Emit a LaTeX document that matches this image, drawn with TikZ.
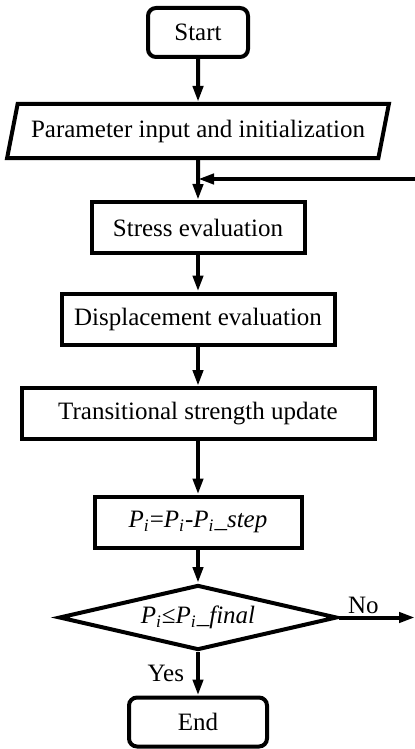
\documentclass[tikz,border=0pt]{standalone}
\usepackage{fontspec}
\setmainfont{Liberation Serif}
\usetikzlibrary{shapes.geometric,arrows.meta}
\newcommand{\Pvar}{\textit{P}\textsubscript{\textit{i}}}

\begin{document}
\begin{tikzpicture}[x=.5pt,y=-.5pt,line width=2pt,
		every node/.style={draw,inner sep=2pt,font=\fontsize{12.5}{15}\selectfont},
		termbox/.style={rectangle,rounded corners=4pt,minimum width=#1,minimum height=24.5pt},
		procbox/.style={rectangle,minimum width=#1,minimum height=25.5pt},
		iobox/.style={trapezium,trapezium left angle=72,trapezium right angle=108,
			trapezium stretches=true,minimum width=191pt,minimum height=27pt},
		testbox/.style={diamond,shape aspect=4.28,inner sep=0pt,minimum width=139pt,minimum height=32.5pt},
		flow/.style={-{Triangle[length=8pt,width=5pt]}},
		plain/.style={draw=none,inner sep=1pt}]
	\useasboundingbox (0,0) rectangle (415,749);
	% boxes
	\node[termbox=50pt] (start) at (198,32.5) {Start};
	\node[iobox] (param) at (198,131) {Parameter input and initialization};
	\node[procbox=106.5pt] (stress) at (198,227.5) {Stress evaluation};
	\node[procbox=136.5pt] (disp) at (198,319) {Displacement evaluation};
	\node[procbox=176.5pt] (trans) at (198,413.5) {Transitional strength update};
	\node[procbox=103.5pt] (update) at (198,522) {\Pvar=\Pvar-\Pvar\_\textit{step}};
	\node[testbox] (check) at (198,617.5) {\Pvar≤\Pvar\_\textit{final}};
	\node[termbox=69pt] (end) at (198,722) {End};
	\coordinate (loop) at (415,179);
	\coordinate (exit) at (415,617.5);
	% connectors
	\draw[flow] (start) -- (param);
	\draw[flow] (param) -- (stress);
	\draw[flow] (loop) -- (loop -| param.south);
	\draw[flow] (stress) -- (disp);
	\draw[flow] (disp) -- (trans);
	\draw[flow] (trans) -- (update);
	\draw[flow] (update) -- (check);
	\draw[flow] (check) -- node[plain,above,pos=.32] {No} (exit);
	\draw[flow] (check) -- node[plain,left,xshift=-5pt] {Yes} (end);
\end{tikzpicture}
\end{document}
